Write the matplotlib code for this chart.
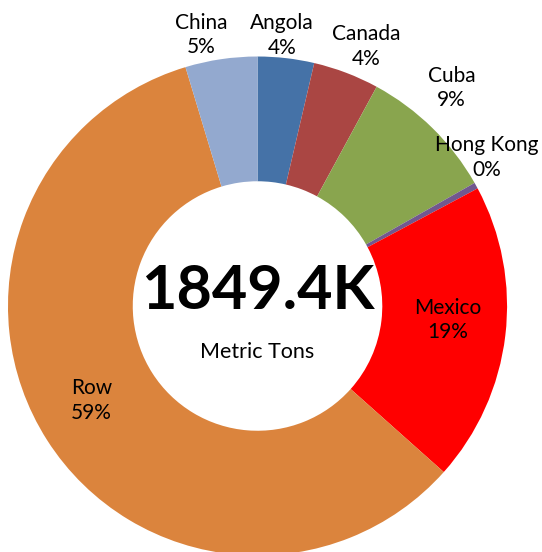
import numpy as np
import matplotlib.pyplot as plt

# import volumes, thousand metric tons
countries = ['Angola', 'Canada', 'Cuba', 'Hong Kong', 'Mexico', 'Row', 'China']
values = [67.5, 79.0, 164.0, 7.4, 358.8, 1086.5, 86.2]
colors = ['#4572A7', '#AA4643', '#89A54E', '#71588F', '#FF0000', '#DB843D', '#93A9CF']
total_text = '1849.4K'
unit_text = 'Metric Tons'

# label placement: radial distance and small angular nudge (deg, clockwise)
label_r = [1.09, 1.127, 1.17, 1.095, 0.766, 0.766, 1.11]
label_nudge = [-1.4, 2.0, -2.8, -4.0, -2.6, 3.0, -3.4]

plt.rcParams['font.family'] = ['Lato', 'DejaVu Sans']

fig = plt.figure(figsize=(5.42, 5.52), dpi=100)
ax = fig.add_axes([0, 0, 1, 1])

ax.pie(values, colors=colors, startangle=90, counterclock=False,
       radius=1.0, wedgeprops=dict(width=0.5, edgecolor='none'))

# pie resets limits, so set them afterwards
ax.set_aspect('auto')
ax.set_xlim(-1.032, 1.140)
ax.set_ylim(-0.986, 1.2265)
ax.axis('off')

vals = np.array(values)
frac = vals / vals.sum()
cum = np.cumsum(frac) - frac / 2
for name, f, c, r, nd in zip(countries, frac, cum, label_r, label_nudge):
    ang = np.deg2rad(c * 360 + nd)  # clockwise from top
    x, y = r * np.sin(ang), r * np.cos(ang)
    ax.text(x, y, f'{name}\n{f*100:.0f}%', ha='center', va='center',
            fontsize=15, linespacing=1.3, color='black')

ax.text(0, 0.062, total_text, ha='center', va='center', fontsize=44,
        fontweight='bold', color='black')
ax.text(0, -0.185, unit_text, ha='center', va='center', fontsize=15.5,
        color='black')

fig.savefig('out.png', dpi=100)
